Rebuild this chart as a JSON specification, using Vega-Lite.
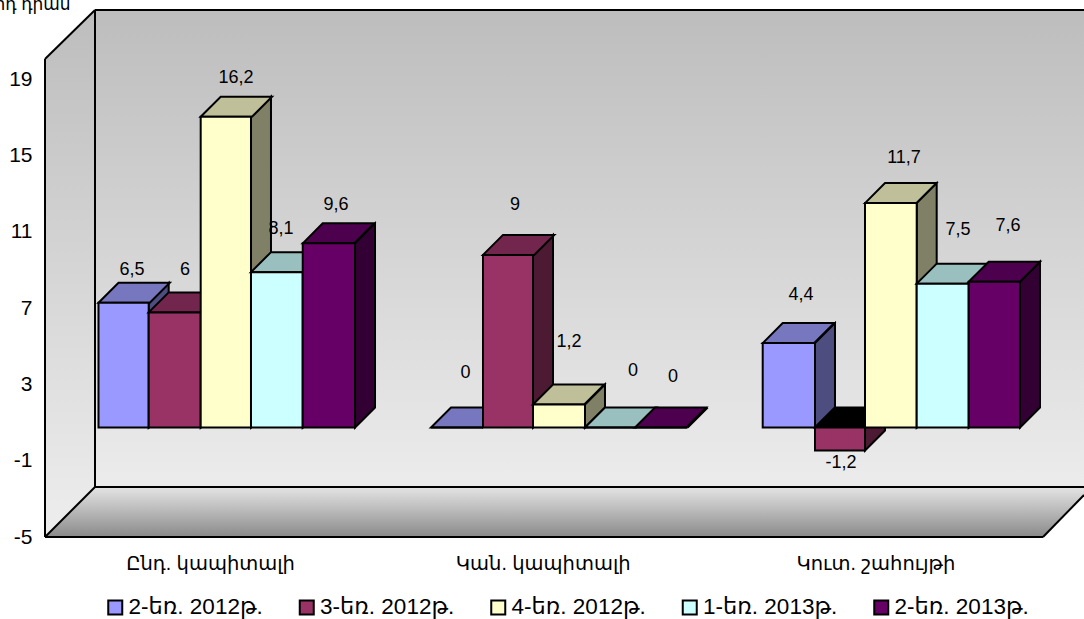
{
"$schema":"https://vega.github.io/schema/vega-lite/v6.json",
"width":1039,"height":527,"autosize":"none","padding":{"left":45,"top":10,"right":0,"bottom":82},
"background":"white",
"config":{"view":{"stroke":null},"font":"Liberation Sans, DejaVu Sans"},
"datasets":{
"bars":[
{"s":"2-եռ. 2012թ.","g":"Ընդ. կապիտալի","value":6.5,"top":6.5,"x0":0.1608,"x1":0.3117,"label":"6,5","lx":0.2615,"ly":8.21},
{"s":"2-եռ. 2012թ.","g":"Կան. կապիտալի","value":0,"top":0,"x0":1.1603,"x1":1.3166,"label":"0","lx":1.264,"ly":2.84},
{"s":"2-եռ. 2012թ.","g":"Կուտ. շահույթի","value":4.4,"top":4.4,"x0":2.1574,"x1":2.3146,"label":"4,4","lx":2.2725,"ly":6.91},
{"s":"3-եռ. 2012թ.","g":"Ընդ. կապիտալի","value":6,"top":6,"x0":0.3117,"x1":0.468,"label":"6","lx":0.4208,"ly":8.21},
{"s":"3-եռ. 2012թ.","g":"Կան. կապիտալի","value":9,"top":9,"x0":1.3166,"x1":1.4669,"label":"9","lx":1.4128,"ly":11.6},
{"s":"3-եռ. 2012թ.","g":"Կուտ. շահույթի","value":-1.2,"top":0,"x0":2.3146,"x1":2.4649,"label":"-1,2","lx":2.3928,"ly":-1.85},
{"s":"4-եռ. 2012թ.","g":"Ընդ. կապիտալի","value":16.2,"top":16.2,"x0":0.468,"x1":0.6192,"label":"16,2","lx":0.5741,"ly":18.22},
{"s":"4-եռ. 2012թ.","g":"Կան. կապիտալի","value":1.2,"top":1.2,"x0":1.4669,"x1":1.6232,"label":"1,2","lx":1.5751,"ly":4.48},
{"s":"4-եռ. 2012թ.","g":"Կուտ. շահույթի","value":11.7,"top":11.7,"x0":2.4649,"x1":2.6203,"label":"11,7","lx":2.5822,"ly":14.05},
{"s":"1-եռ. 2013թ.","g":"Ընդ. կապիտալի","value":8.1,"top":8.1,"x0":0.6192,"x1":0.7747,"label":"8,1","lx":0.7094,"ly":10.35},
{"s":"1-եռ. 2013թ.","g":"Կան. կապիտալի","value":0,"top":0,"x0":1.6232,"x1":1.7735,"label":"0","lx":1.7675,"ly":2.95},
{"s":"1-եռ. 2013թ.","g":"Կուտ. շահույթի","value":7.5,"top":7.5,"x0":2.6203,"x1":2.7766,"label":"7,5","lx":2.7445,"ly":10.3},
{"s":"2-եռ. 2013թ.","g":"Ընդ. կապիտալի","value":9.6,"top":9.6,"x0":0.7747,"x1":0.9319,"label":"9,6","lx":0.8747,"ly":11.6},
{"s":"2-եռ. 2013թ.","g":"Կան. կապիտալի","value":0,"top":0,"x0":1.7735,"x1":1.9319,"label":"0","lx":1.8878,"ly":2.63},
{"s":"2-եռ. 2013թ.","g":"Կուտ. շահույթի","value":7.6,"top":7.6,"x0":2.7766,"x1":2.9308,"label":"7,6","lx":2.8948,"ly":10.51}
],
"sides":[
{"s":"2-եռ. 2012թ.","g":"a","x":0.3117,"hi":6.5,"lo":0},{"s":"2-եռ. 2012թ.","g":"a","x":0.3718,"hi":7.5428,"lo":1.0428},
{"s":"2-եռ. 2012թ.","g":"b","x":1.3166,"hi":0,"lo":0},{"s":"2-եռ. 2012թ.","g":"b","x":1.3767,"hi":1.0428,"lo":1.0428},
{"s":"2-եռ. 2012թ.","g":"c","x":2.3146,"hi":4.4,"lo":0},{"s":"2-եռ. 2012թ.","g":"c","x":2.3747,"hi":5.4428,"lo":1.0428},
{"s":"3-եռ. 2012թ.","g":"a","x":0.468,"hi":6,"lo":0},{"s":"3-եռ. 2012թ.","g":"a","x":0.5281,"hi":7.0428,"lo":1.0428},
{"s":"3-եռ. 2012թ.","g":"b","x":1.4669,"hi":9,"lo":0},{"s":"3-եռ. 2012թ.","g":"b","x":1.527,"hi":10.0428,"lo":1.0428},
{"s":"3-եռ. 2012թ.","g":"c","x":2.4649,"hi":0,"lo":-1.2},{"s":"3-եռ. 2012թ.","g":"c","x":2.525,"hi":1.0428,"lo":-0.1572},
{"s":"4-եռ. 2012թ.","g":"a","x":0.6192,"hi":16.2,"lo":0},{"s":"4-եռ. 2012թ.","g":"a","x":0.6793,"hi":17.2428,"lo":1.0428},
{"s":"4-եռ. 2012թ.","g":"b","x":1.6232,"hi":1.2,"lo":0},{"s":"4-եռ. 2012թ.","g":"b","x":1.6833,"hi":2.2428,"lo":1.0428},
{"s":"4-եռ. 2012թ.","g":"c","x":2.6203,"hi":11.7,"lo":0},{"s":"4-եռ. 2012թ.","g":"c","x":2.6804,"hi":12.7428,"lo":1.0428},
{"s":"1-եռ. 2013թ.","g":"a","x":0.7747,"hi":8.1,"lo":0},{"s":"1-եռ. 2013թ.","g":"a","x":0.8348,"hi":9.1428,"lo":1.0428},
{"s":"1-եռ. 2013թ.","g":"b","x":1.7735,"hi":0,"lo":0},{"s":"1-եռ. 2013թ.","g":"b","x":1.8336,"hi":1.0428,"lo":1.0428},
{"s":"1-եռ. 2013թ.","g":"c","x":2.7766,"hi":7.5,"lo":0},{"s":"1-եռ. 2013թ.","g":"c","x":2.8367,"hi":8.5428,"lo":1.0428},
{"s":"2-եռ. 2013թ.","g":"a","x":0.9319,"hi":9.6,"lo":0},{"s":"2-եռ. 2013թ.","g":"a","x":0.992,"hi":10.6428,"lo":1.0428},
{"s":"2-եռ. 2013թ.","g":"b","x":1.9319,"hi":0,"lo":0},{"s":"2-եռ. 2013թ.","g":"b","x":1.992,"hi":1.0428,"lo":1.0428},
{"s":"2-եռ. 2013թ.","g":"c","x":2.9308,"hi":7.6,"lo":0},{"s":"2-եռ. 2013թ.","g":"c","x":2.9909,"hi":8.6428,"lo":1.0428}
],
"edges":[
{"x":0.1503,"x2":3.1232,"y":22.62,"y2":22.62},
{"x":0.1503,"x2":0.1503,"y":22.62,"y2":-2.38},
{"x":0.1503,"x2":3.1232,"y":-2.38,"y2":-2.38},
{"x":0,"x2":0.1503,"y":20.05,"y2":22.62},
{"x":0,"x2":0,"y":20.05,"y2":-5},
{"x":0,"x2":0.1503,"y":-5,"y2":-2.38},
{"x":0,"x2":3,"y":-5,"y2":-5},
{"x":3,"x2":3.1232,"y":-5,"y2":-2.8}
]
},
"layer":[
{"data":{"values":[{"x":0.1503,"hi":22.62,"lo":-2.38},{"x":3.1232,"hi":22.62,"lo":-2.38}]},
"mark":{"type":"area","orient":"vertical","fill":{"gradient":"linear","x1":0,"y1":0,"x2":0,"y2":1,"stops":[{"offset":0,"color":"#bdbdbd"},{"offset":1,"color":"#ececec"}]}},
"encoding":{
"x":{"field":"x","type":"quantitative","scale":{"domain":[0,3.1232],"nice":false,"zero":false},"axis":{"values":[0.496,1.496,2.496],"labelExpr":"datum.value<1?'Ընդ. կապիտալի':datum.value<2?'Կան. կապիտալի':'Կուտ. շահույթի'","title":null,"ticks":false,"domain":false,"grid":false,"labelFontSize":19.5,"labelPadding":17,"labelColor":"#000000"}},
"y":{"field":"hi","type":"quantitative","stack":null,"scale":{"domain":[-5,22.62],"nice":false,"zero":false},"axis":{"values":[-5,-1,3,7,11,15,19],"labelExpr":"replace(datum.label,'−','-')","ticks":false,"domain":false,"grid":false,"labelFontSize":21,"labelPadding":13,"labelColor":"#000000","title":"մլրդ դրամ","titleAngle":0,"titleFontSize":17,"titleFontWeight":"normal","titleAlign":"left","titleBaseline":"alphabetic","titleX":-66.5,"titleY":-1}},
"y2":{"field":"lo"}}},
{"data":{"values":[{"x":0,"hi":20.05,"lo":-5},{"x":0.1503,"hi":22.62,"lo":-2.38}]},
"mark":{"type":"area","orient":"vertical","fill":{"gradient":"linear","x1":0,"y1":0,"x2":0,"y2":1,"stops":[{"offset":0,"color":"#bdbdbd"},{"offset":1,"color":"#eeeeee"}]}},
"encoding":{"x":{"field":"x","type":"quantitative"},"y":{"field":"hi","type":"quantitative","stack":null,"scale":{"domain":[-5,22.62],"nice":false,"zero":false},"axis":null},"y2":{"field":"lo"}}},
{"data":{"values":[{"x":0,"hi":-5,"lo":-5},{"x":0.1503,"hi":-2.38,"lo":-5},{"x":3,"hi":-2.38,"lo":-5},{"x":3.1232,"hi":-2.38,"lo":-2.8}]},
"mark":{"type":"area","orient":"vertical","fill":{"gradient":"linear","x1":0,"y1":0,"x2":0,"y2":1,"stops":[{"offset":0,"color":"#e4e4e4"},{"offset":1,"color":"#8a8a8a"}]}},
"encoding":{"x":{"field":"x","type":"quantitative"},"y":{"field":"hi","type":"quantitative","stack":null,"scale":{"domain":[-5,22.62],"nice":false,"zero":false},"axis":null},"y2":{"field":"lo"}}},
{"data":{"name":"edges"},
"mark":{"type":"rule","color":"#000000","strokeWidth":2},
"encoding":{"x":{"field":"x","type":"quantitative"},"x2":{"field":"x2"},"y":{"field":"y","type":"quantitative","scale":{"domain":[-5,22.62],"nice":false,"zero":false},"axis":null},"y2":{"field":"y2"}}},

{"data":{"name":"sides"},"transform":[{"filter":"datum.s=='2-եռ. 2012թ.'"}],"mark":{"type":"area","orient":"vertical","fill":"#4D4D80","stroke":"#000000","strokeWidth":2},
"encoding":{"detail":{"field":"g"},"x":{"field":"x","type":"quantitative"},"y":{"field":"hi","type":"quantitative","stack":null,"scale":{"domain":[-5.709,21.767],"nice":false,"zero":false},"axis":null},"y2":{"field":"lo"}}},
{"data":{"name":"bars"},"transform":[{"filter":"datum.s=='2-եռ. 2012թ.'"}],"mark":{"type":"point","shape":"M0,0L20,-20L71.3,-20L51.3,0Z","size":4,"filled":true,"fill":"#7777BF","stroke":"#000000","strokeWidth":2,"opacity":1},
"encoding":{"x":{"field":"x0","type":"quantitative"},"y":{"field":"top","type":"quantitative","scale":{"domain":[-5.709,21.767],"nice":false,"zero":false},"axis":null}}},
{"data":{"name":"bars"},"transform":[{"filter":"datum.s=='2-եռ. 2012թ.'"}],"mark":{"type":"bar","stroke":"#000000","strokeWidth":2},
"encoding":{"x":{"field":"x0","type":"quantitative"},"x2":{"field":"x1"},"y":{"field":"value","type":"quantitative","stack":null,"scale":{"domain":[-5.709,21.767],"nice":false,"zero":false},"axis":null},"y2":{"datum":0},
"color":{"field":"s","type":"nominal","scale":{"domain":["2-եռ. 2012թ.","3-եռ. 2012թ.","4-եռ. 2012թ.","1-եռ. 2013թ.","2-եռ. 2013թ."],"range":["#9999FF","#993366","#FFFFCC","#CCFFFF","#660066"]},
"legend":{"orient":"none","legendX":59,"legendY":586,"direction":"horizontal","columns":5,"title":null,"symbolType":"square","symbolSize":196,"symbolStrokeColor":"#000000","symbolStrokeWidth":2,"labelFontSize":22.5,"labelColor":"#000000","columnPadding":32.5,"labelOffset":2,"padding":0}}}},

{"data":{"name":"sides"},"transform":[{"filter":"datum.s=='3-եռ. 2012թ.'"}],"mark":{"type":"area","orient":"vertical","fill":"#4D1A33","stroke":"#000000","strokeWidth":2},
"encoding":{"detail":{"field":"g"},"x":{"field":"x","type":"quantitative"},"y":{"field":"hi","type":"quantitative","stack":null,"scale":{"domain":[-5.709,21.767],"nice":false,"zero":false},"axis":null},"y2":{"field":"lo"}}},
{"data":{"name":"bars"},"transform":[{"filter":"datum.s=='3-եռ. 2012թ.'"}],"mark":{"type":"point","shape":"M0,0L20,-20L71.3,-20L51.3,0Z","size":4,"filled":true,"stroke":"#000000","strokeWidth":2,"opacity":1},
"encoding":{"fill":{"condition":{"test":"datum.value<0","value":"#000000"},"value":"#73264D"},"x":{"field":"x0","type":"quantitative"},"y":{"field":"top","type":"quantitative","scale":{"domain":[-5.709,21.767],"nice":false,"zero":false},"axis":null}}},
{"data":{"name":"bars"},"transform":[{"filter":"datum.s=='3-եռ. 2012թ.'"}],"mark":{"type":"bar","stroke":"#000000","strokeWidth":2},
"encoding":{"x":{"field":"x0","type":"quantitative"},"x2":{"field":"x1"},"y":{"field":"value","type":"quantitative","stack":null,"scale":{"domain":[-5.709,21.767],"nice":false,"zero":false},"axis":null},"y2":{"datum":0},
"color":{"field":"s","type":"nominal","scale":{"domain":["2-եռ. 2012թ.","3-եռ. 2012թ.","4-եռ. 2012թ.","1-եռ. 2013թ.","2-եռ. 2013թ."],"range":["#9999FF","#993366","#FFFFCC","#CCFFFF","#660066"]}}}},

{"data":{"name":"sides"},"transform":[{"filter":"datum.s=='4-եռ. 2012թ.'"}],"mark":{"type":"area","orient":"vertical","fill":"#808066","stroke":"#000000","strokeWidth":2},
"encoding":{"detail":{"field":"g"},"x":{"field":"x","type":"quantitative"},"y":{"field":"hi","type":"quantitative","stack":null,"scale":{"domain":[-5.709,21.767],"nice":false,"zero":false},"axis":null},"y2":{"field":"lo"}}},
{"data":{"name":"bars"},"transform":[{"filter":"datum.s=='4-եռ. 2012թ.'"}],"mark":{"type":"point","shape":"M0,0L20,-20L71.3,-20L51.3,0Z","size":4,"filled":true,"fill":"#BFBF99","stroke":"#000000","strokeWidth":2,"opacity":1},
"encoding":{"x":{"field":"x0","type":"quantitative"},"y":{"field":"top","type":"quantitative","scale":{"domain":[-5.709,21.767],"nice":false,"zero":false},"axis":null}}},
{"data":{"name":"bars"},"transform":[{"filter":"datum.s=='4-եռ. 2012թ.'"}],"mark":{"type":"bar","stroke":"#000000","strokeWidth":2},
"encoding":{"x":{"field":"x0","type":"quantitative"},"x2":{"field":"x1"},"y":{"field":"value","type":"quantitative","stack":null,"scale":{"domain":[-5.709,21.767],"nice":false,"zero":false},"axis":null},"y2":{"datum":0},
"color":{"field":"s","type":"nominal","scale":{"domain":["2-եռ. 2012թ.","3-եռ. 2012թ.","4-եռ. 2012թ.","1-եռ. 2013թ.","2-եռ. 2013թ."],"range":["#9999FF","#993366","#FFFFCC","#CCFFFF","#660066"]}}}},

{"data":{"name":"sides"},"transform":[{"filter":"datum.s=='1-եռ. 2013թ.'"}],"mark":{"type":"area","orient":"vertical","fill":"#668080","stroke":"#000000","strokeWidth":2},
"encoding":{"detail":{"field":"g"},"x":{"field":"x","type":"quantitative"},"y":{"field":"hi","type":"quantitative","stack":null,"scale":{"domain":[-5.709,21.767],"nice":false,"zero":false},"axis":null},"y2":{"field":"lo"}}},
{"data":{"name":"bars"},"transform":[{"filter":"datum.s=='1-եռ. 2013թ.'"}],"mark":{"type":"point","shape":"M0,0L20,-20L71.3,-20L51.3,0Z","size":4,"filled":true,"fill":"#99BFBF","stroke":"#000000","strokeWidth":2,"opacity":1},
"encoding":{"x":{"field":"x0","type":"quantitative"},"y":{"field":"top","type":"quantitative","scale":{"domain":[-5.709,21.767],"nice":false,"zero":false},"axis":null}}},
{"data":{"name":"bars"},"transform":[{"filter":"datum.s=='1-եռ. 2013թ.'"}],"mark":{"type":"bar","stroke":"#000000","strokeWidth":2},
"encoding":{"x":{"field":"x0","type":"quantitative"},"x2":{"field":"x1"},"y":{"field":"value","type":"quantitative","stack":null,"scale":{"domain":[-5.709,21.767],"nice":false,"zero":false},"axis":null},"y2":{"datum":0},
"color":{"field":"s","type":"nominal","scale":{"domain":["2-եռ. 2012թ.","3-եռ. 2012թ.","4-եռ. 2012թ.","1-եռ. 2013թ.","2-եռ. 2013թ."],"range":["#9999FF","#993366","#FFFFCC","#CCFFFF","#660066"]}}}},

{"data":{"name":"sides"},"transform":[{"filter":"datum.s=='2-եռ. 2013թ.'"}],"mark":{"type":"area","orient":"vertical","fill":"#330033","stroke":"#000000","strokeWidth":2},
"encoding":{"detail":{"field":"g"},"x":{"field":"x","type":"quantitative"},"y":{"field":"hi","type":"quantitative","stack":null,"scale":{"domain":[-5.709,21.767],"nice":false,"zero":false},"axis":null},"y2":{"field":"lo"}}},
{"data":{"name":"bars"},"transform":[{"filter":"datum.s=='2-եռ. 2013թ.'"}],"mark":{"type":"point","shape":"M0,0L20,-20L71.3,-20L51.3,0Z","size":4,"filled":true,"fill":"#4D004D","stroke":"#000000","strokeWidth":2,"opacity":1},
"encoding":{"x":{"field":"x0","type":"quantitative"},"y":{"field":"top","type":"quantitative","scale":{"domain":[-5.709,21.767],"nice":false,"zero":false},"axis":null}}},
{"data":{"name":"bars"},"transform":[{"filter":"datum.s=='2-եռ. 2013թ.'"}],"mark":{"type":"bar","stroke":"#000000","strokeWidth":2},
"encoding":{"x":{"field":"x0","type":"quantitative"},"x2":{"field":"x1"},"y":{"field":"value","type":"quantitative","stack":null,"scale":{"domain":[-5.709,21.767],"nice":false,"zero":false},"axis":null},"y2":{"datum":0},
"color":{"field":"s","type":"nominal","scale":{"domain":["2-եռ. 2012թ.","3-եռ. 2012թ.","4-եռ. 2012թ.","1-եռ. 2013թ.","2-եռ. 2013թ."],"range":["#9999FF","#993366","#FFFFCC","#CCFFFF","#660066"]}}}},

{"data":{"name":"bars"},"mark":{"type":"text","fontSize":18,"color":"#000000","align":"center","baseline":"middle"},
"encoding":{"text":{"field":"label"},"x":{"field":"lx","type":"quantitative"},"y":{"field":"ly","type":"quantitative","scale":{"domain":[-5.709,21.767],"nice":false,"zero":false},"axis":null}}}
],
"resolve":{"scale":{"y":"independent"}}
}
